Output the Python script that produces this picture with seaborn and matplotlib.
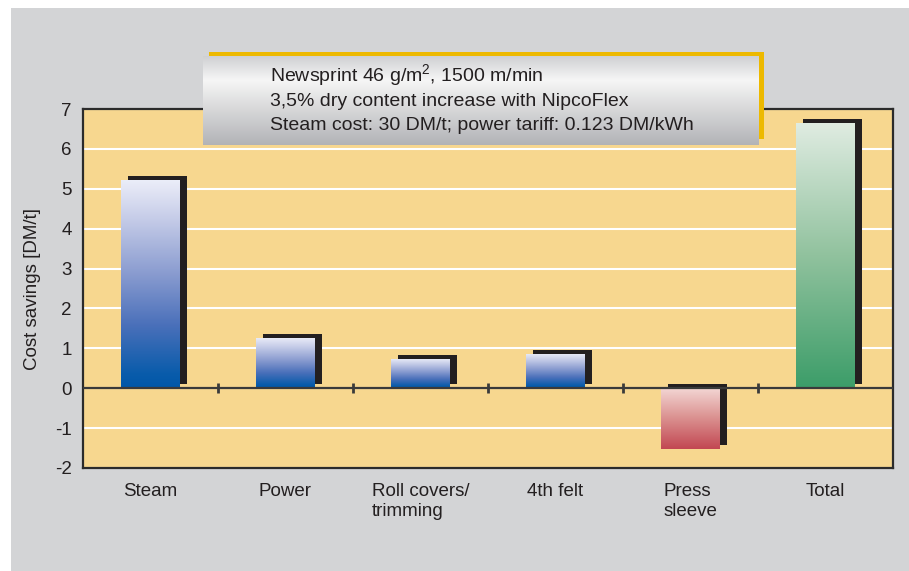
import numpy as np
import pandas as pd
import matplotlib
matplotlib.use("Agg")
import matplotlib.pyplot as plt
import matplotlib.transforms as mtransforms
from matplotlib.colors import LinearSegmentedColormap
from matplotlib.patches import Rectangle
import seaborn as sns

# Cost savings per item [DM/t]
categories = ["Steam", "Power", "Roll covers/\ntrimming", "4th felt", "Press\nsleeve", "Total"]
savings = [5.22, 1.27, 0.74, 0.87, -1.52, 6.65]
yticks = [-2, -1, 0, 1, 2, 3, 4, 5, 6, 7]
note_lines = [
    "Newsprint 46 g/m$^2$, 1500 m/min",
    "3,5% dry content increase with NipcoFlex",
    "Steam cost: 30 DM/t; power tariff: 0.123 DM/kWh",
]

# colour stops (bottom -> top) of each bar gradient
blue = [(0, "#0057A8"), (0.07, "#0A5CAB"), (0.3, "#4A70BA"), (0.55, "#8A9CD0"),
        (0.8, "#C3CAE7"), (1, "#ECEEF9")]
red = [(0, "#C24752"), (0.5, "#DA8F8E"), (1, "#F3D6D4")]
green = [(0, "#3C9D69"), (0.5, "#91C29E"), (1, "#E0ECE2")]
bar_gradients = [blue, blue, blue, blue, red, green]

W, H = 909, 571
TEXT = "#231F20"

sns.set_theme(style="white")
plt.rcParams["font.family"] = ["Liberation Sans", "DejaVu Sans"]
plt.rcParams["mathtext.default"] = "regular"
plt.rcParams["axes.unicode_minus"] = False

fig = plt.figure(figsize=(W / 100, H / 100), dpi=100, facecolor="white")
fig.patches.append(Rectangle((11 / W, 0), 1 - 11 / W, 1 - 8 / H, transform=fig.transFigure,
                             facecolor="#D3D4D6", edgecolor="none", zorder=-10))


def px_box(x0, y0, x1, y1):
    return [x0 / W, 1 - y1 / H, (x1 - x0) / W, (y1 - y0) / H]


ax = fig.add_axes(px_box(83, 109, 893, 468))
ax.set_facecolor("#F7D78F")

df = pd.DataFrame({"category": categories, "savings": savings})
sns.barplot(data=df, x="category", y="savings", width=0.43, errorbar=None,
            color="white", ax=ax, zorder=3)

shadow_tf = ax.transData + mtransforms.ScaledTranslation(7 / 100, 4 / 100, fig.dpi_scale_trans)
grad = np.linspace(0, 1, 256).reshape(-1, 1)
for patch, stops in zip(ax.patches[:len(categories)], bar_gradients):
    x, y = patch.get_x(), patch.get_y()
    w, h = patch.get_width(), patch.get_height()
    ax.add_patch(Rectangle((x, y), w, h, transform=shadow_tf, facecolor="#231F20",
                           edgecolor="none", zorder=2))
    patch.set_facecolor("none")
    patch.set_edgecolor("none")
    y0, y1 = min(y, y + h), max(y, y + h)
    cmap = LinearSegmentedColormap.from_list("bar", stops)
    im = ax.imshow(grad, cmap=cmap, origin="lower", aspect="auto", interpolation="bicubic",
                   extent=(x, x + w, y0, y1), zorder=3)
    im.set_clip_path(patch)

# zero line with category separators
ax.axhline(0, color="#3A3A3A", lw=1.6, zorder=3.5)
ax.vlines(np.arange(len(categories) - 1) + 0.5, -0.12, 0.12, color="#3A3A3A", lw=2, zorder=1.5)

ax.set_xlim(-0.5, len(categories) - 0.5)
ax.set_ylim(-2, 7)
ax.set_yticks(yticks)
ax.grid(axis="y", color="white", lw=1.5)
ax.set_axisbelow(True)
for s in ax.spines.values():
    s.set_visible(True)
    s.set_color("#2B2B2B")
    s.set_linewidth(1.6)

ax.tick_params(axis="y", length=0, pad=8, labelsize=13.5, labelcolor=TEXT)
ax.tick_params(axis="x", length=0, pad=11, labelsize=13.5, labelcolor=TEXT)
for lbl in ax.get_xticklabels():
    lbl.set_multialignment("left")
ax.set_xlabel("")
ax.set_ylabel("Cost savings [DM/t]", fontsize=13.5, color=TEXT)
ax.yaxis.set_label_coords(-0.052, 0.5)

# note box with yellow frame
nax = fig.add_axes(px_box(203, 52, 764, 145))
nax.axis("off")
nax.add_patch(Rectangle((209, 52), 555, 87, facecolor="#EDB900", edgecolor="none", zorder=1))
box_cmap = LinearSegmentedColormap.from_list(
    "box", [(0, "#CFD0D2"), (0.27, "#F6F6F6"), (1, "#B2B3B6")])
nax.imshow(np.linspace(0, 1, 256).reshape(-1, 1), cmap=box_cmap, aspect="auto",
           interpolation="bicubic", extent=(203, 759, 145, 56.7), origin="upper", zorder=2)
nax.set_xlim(203, 764)
nax.set_ylim(145, 52)
for yy, line in zip([75, 101, 125], note_lines):
    nax.text(270, yy, line, fontsize=14, color=TEXT, va="center", ha="left", zorder=3)

fig.savefig("out.png", dpi=100, facecolor="white")
